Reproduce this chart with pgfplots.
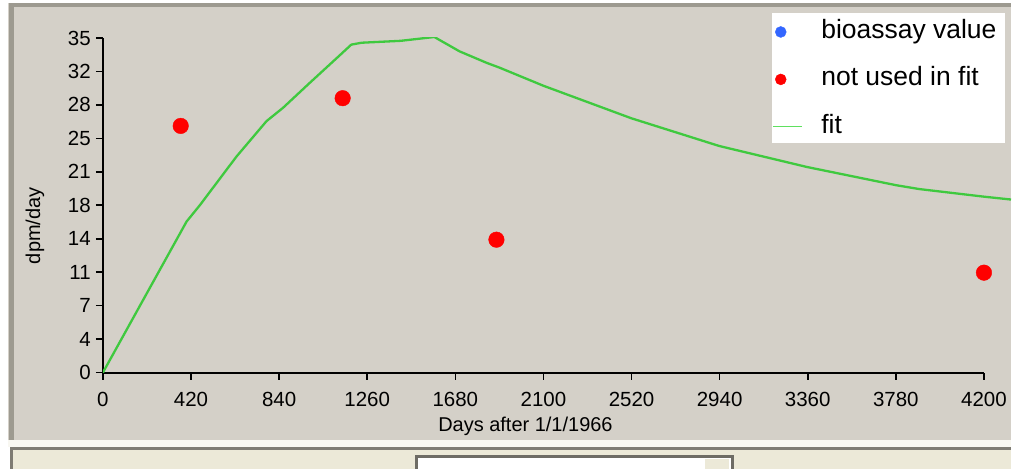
\documentclass[border=0pt]{standalone}
\usepackage{pgfplots}
\pgfplotsset{compat=1.18}
\usepackage{fontspec}
\setmainfont{Liberation Sans}

\definecolor{winbg}{HTML}{D4D0C8}
\definecolor{panel}{HTML}{ECE9D8}
\definecolor{edge}{HTML}{9D9A90}
\definecolor{fitgreen}{HTML}{3FC93F}
\definecolor{leggreen}{HTML}{5FE05F}
\definecolor{legblue}{HTML}{3366FF}

\pgfplotsset{
    dotleg/.style={legend image code/.code={\draw[mark repeat=2, mark phase=2, ##1, mark size=5.5pt]
        plot coordinates {(0pt,0pt)(8pt,0pt)(29pt,0pt)};}},
    lineleg/.style={legend image code/.code={\draw[leggreen, line width=1.2pt] (0pt,0pt) -- (29pt,0pt);}},
}

% fit curve, days after 1/1/1966 vs dpm/day
\pgfplotstableread{
x y
0 0
399 15.8
462 17.5
637 22.6
780 26.3
859 27.7
986 30.3
1120 33.0
1184 34.3
1233 34.5
1420 34.7
1520 34.95
1580 35.1
1700 33.6
1829 32.4
1890 31.9
2100 30.0
2519 26.6
2938 23.7
3357 21.5
3781 19.6
3890 19.2
4200 18.4
4329 18.1
}\fitdata

\pgfplotstableread{
x y
371 25.8
1143 28.7
1876 13.9
4200 10.45
}\notused

\begin{document}
\begin{tikzpicture}
\begin{scope}[x=1pt,y=1pt]
\fill[white] (0,0) rectangle (1012,470);
% window frame
\fill[winbg] (8,30) rectangle (1012,467);
\fill[edge] (9,30) rectangle (14,467);
\fill[edge] (9,463) rectangle (1012,467);
\fill[panel!35!white] (8,23) rectangle (1012,30);
\fill[edge!80!black] (10,20) rectangle (1012,23);
\fill[panel] (13,0) rectangle (1012,20);
\fill[edge!80!black] (10,0) rectangle (13,23);
% text box at the bottom
\fill[edge!70!black] (415,0) rectangle (735,15);
\fill[white] (418,0) rectangle (732,12);
\fill[panel] (706,0) rectangle (730,10);
% legend background
\fill[white] (773,327) rectangle (1006,457);
\end{scope}

\begin{axis}[
    at={(103pt,97pt)}, anchor=south west,
    scale only axis,
    width=909.1pt, height=335pt,
    xmin=0, xmax=4329,
    ymin=0, ymax=35,
    axis lines*=left,
    axis line style={line width=2pt, black},
    x axis line style={shorten >=27.1pt},
    tick style={line width=1.6pt, black},
    tick align=outside,
    major tick length=7pt,
    xtick={0,420,840,1260,1680,2100,2520,2940,3360,3780,4200},
    xticklabels={0,420,840,1260,1680,2100,2520,2940,3360,3780,4200},
    ytick={0,3.5,7,10.5,14,17.5,21,24.5,28,31.5,35},
    yticklabels={0,4,7,11,14,18,21,25,28,32,35},
    ticklabel style={font=\fontsize{20.5}{24}\selectfont, inner sep=0pt},
    xticklabel style={anchor=north, yshift=-12pt},
    yticklabel style={anchor=east, xshift=-5pt},
    xlabel={Days after 1/1/1966},
    ylabel={dpm/day},
    label style={font=\fontsize{20}{24}\selectfont},
    xlabel style={at={(axis description cs:0.4653,-0.162)}, anchor=center},
    ylabel style={at={(axis description cs:-0.0748,0.4388)}, anchor=center},
    legend cell align=left,
    legend style={
        at={(axis description cs:0.7370,1.0552)}, anchor=north west,
        draw=none, fill=none, inner sep=0pt, outer sep=0pt,
        font=\fontsize{26.5}{30}\selectfont,
        row sep=22.5pt,
        nodes={inner sep=0pt, text height=19pt, text depth=6pt},
        /tikz/every odd column/.append style={column sep=19pt},
    },
]
\addlegendimage{only marks, mark=*, mark size=5pt, legblue, dotleg}
\addlegendentry{bioassay value}

\addplot[only marks, mark=*, mark size=7.8pt, red, draw=none, dotleg]
    table[x=x, y=y] {\notused};
\addlegendentry{not used in fit}

\addplot[fitgreen, line width=2.3pt, no marks, lineleg]
    table[x=x, y=y] {\fitdata};
\addlegendentry{fit}
\end{axis}
\end{tikzpicture}
\end{document}
